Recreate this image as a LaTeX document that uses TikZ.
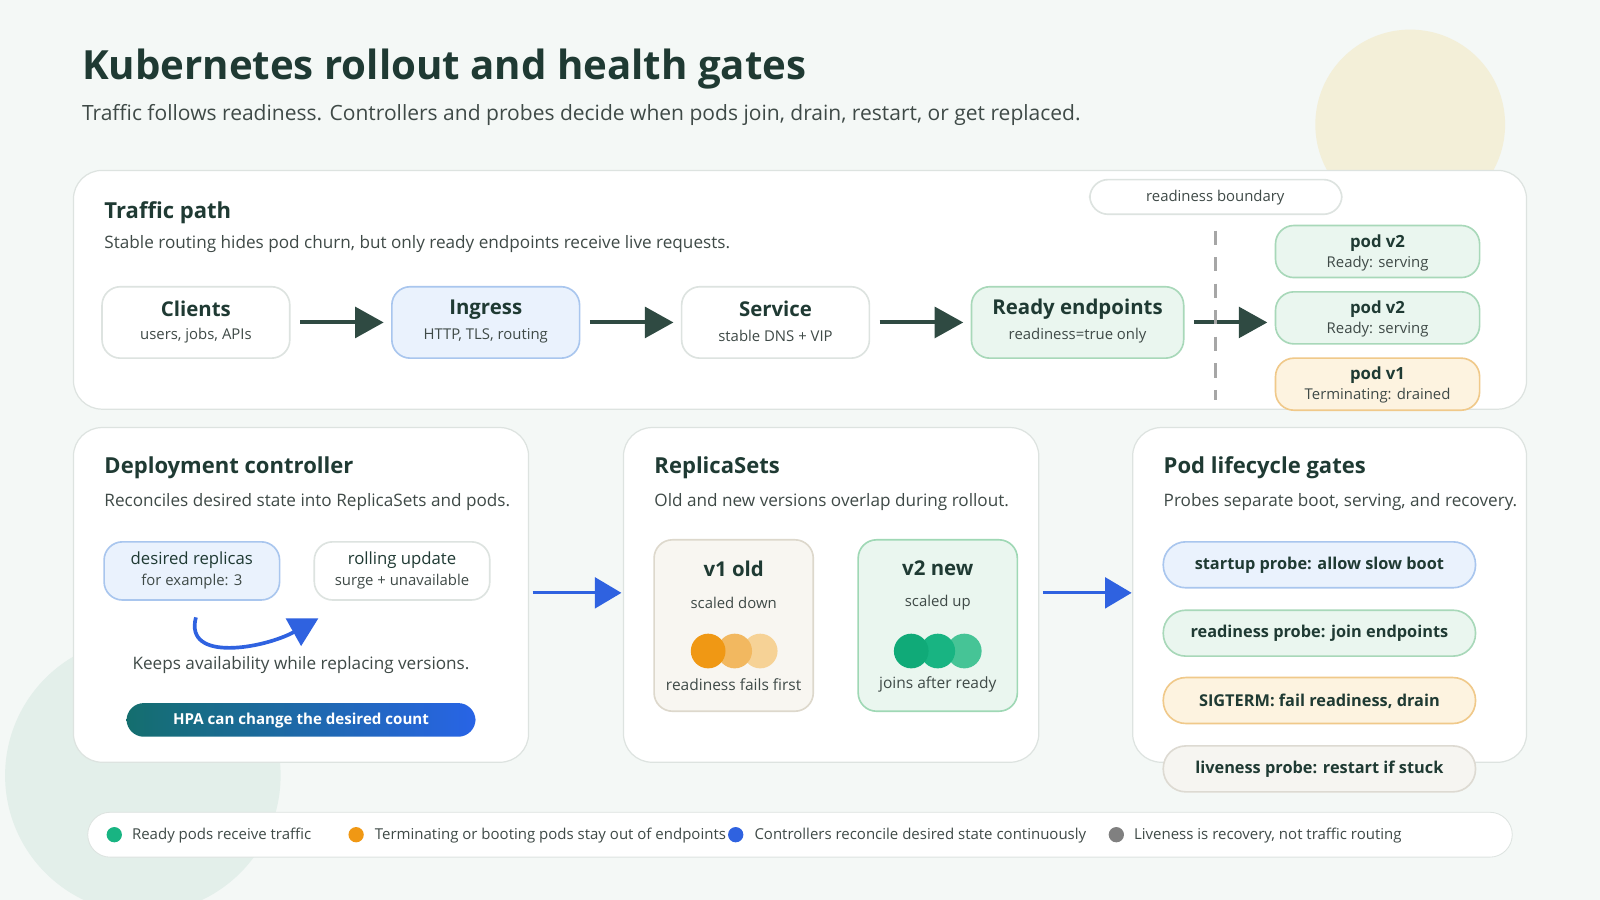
\documentclass[tikz,border=0pt]{standalone}
\usepackage{fontspec}
\setmainfont{Open Sans}
\usetikzlibrary{arrows.meta}
\definecolor{ink}{HTML}{1F3A33}
\definecolor{txt}{HTML}{3F4A47}
\definecolor{dark}{HTML}{2F4A42}
\definecolor{bluef}{HTML}{EAF2FD}\definecolor{blueb}{HTML}{A9C6EE}
\definecolor{greenf}{HTML}{EAF6EF}\definecolor{greenb}{HTML}{A8D8B9}
\definecolor{yelf}{HTML}{FDF3E0}\definecolor{yelb}{HTML}{F0C98A}
\definecolor{grayf}{HTML}{F6F5F1}\definecolor{grayb}{HTML}{DDDAD2}
\definecolor{panelb}{HTML}{DDE3E0}
\definecolor{arrblue}{HTML}{2F62E0}
\definecolor{bg}{HTML}{F4F8F6}
\definecolor{sun}{HTML}{F3EFD8}
\definecolor{mint}{HTML}{E3EFEA}
\definecolor{oldf}{HTML}{F8F6F1}\definecolor{oldb}{HTML}{DDD8CC}
\definecolor{newb}{HTML}{9FD8B5}
\definecolor{or1}{HTML}{F09814}\definecolor{or2}{HTML}{F2B860}\definecolor{or3}{HTML}{F6D296}
\definecolor{gr1}{HTML}{10AA78}\definecolor{gr2}{HTML}{18B482}\definecolor{gr3}{HTML}{46C496}
\definecolor{hpa1}{HTML}{146E6E}\definecolor{hpa2}{HTML}{2864E6}
\tikzset{
 every node/.style={inner sep=0pt},
 panel/.style={draw=panelb,fill=white,rounded corners=14pt,line width=0.6pt},
 box/.style={draw=panelb,fill=white,rounded corners=9pt,line width=0.8pt},
 pill/.style={rounded corners=11pt,line width=0.8pt},
 darr/.style={draw=dark,line width=2pt,-{Triangle[length=14pt,width=15pt]}},
 barr/.style={draw=arrblue,line width=1.6pt,-{Triangle[length=13pt,width=15pt]}},
 h/.style={font=\fontsize{10.8}{13}\selectfont\bfseries,text=ink,anchor=west},
 sub/.style={font=\fontsize{8.4}{10}\selectfont,text=txt,anchor=west},
 nt/.style={font=\fontsize{10}{12}\selectfont\bfseries,text=ink},
 ns/.style={font=\fontsize{7.3}{9}\selectfont,text=txt},
 pt/.style={font=\fontsize{8.2}{10}\selectfont\bfseries,text=ink},
 gt/.style={font=\fontsize{8}{10}\selectfont\bfseries,text=ink},
 lt/.style={font=\fontsize{7.35}{9}\selectfont,text=txt,anchor=west},
}
\begin{document}
\begin{tikzpicture}[x=0.5pt,y=-0.5pt]
\useasboundingbox (0,0) rectangle (1568,882);
\fill[bg] (0,0) rectangle (1568,882);
\fill[sun] (1382,122) circle (93);
\fill[mint] (140,760) circle (135);
\node[anchor=west,font=\fontsize{19.7}{24}\selectfont\bfseries,text=ink] (title) at (80,68) {Kubernetes rollout and health gates};
\node[anchor=west,font=\fontsize{10.3}{13}\selectfont,text=txt] (subt) at (80,113) {Traffic follows readiness. Controllers and probes decide when pods join, drain, restart, or get replaced.};
% traffic panel
\draw[panel] (72,167) rectangle (1496,401);
\node[h] (tp) at (102,208) {Traffic path};
\node[sub] (tps) at (102,239) {Stable routing hides pod churn, but only ready endpoints receive live requests.};
\draw[box] (100,281) rectangle (284,351);
\node[nt] (cl) at (192,303) {Clients}; \node[ns] (cls) at (192,329) {users, jobs, APIs};
\draw[box,fill=bluef,draw=blueb] (384,281) rectangle (568,351);
\node[nt] (in) at (476,303) {Ingress}; \node[ns] (ins) at (476,329) {HTTP, TLS, routing};
\draw[box] (668,281) rectangle (852,351);
\node[nt] (sv) at (760,303) {Service}; \node[ns] (svs) at (760,329) {stable DNS + VIP};
\draw[box,fill=greenf,draw=greenb] (952,281) rectangle (1160,351);
\node[nt] (re) at (1056,303) {Ready endpoints}; \node[ns] (res) at (1056,329) {readiness=true only};
\coordinate (a1) at (294,316); \coordinate (b1) at (376,316);
\coordinate (a2) at (578,316); \coordinate (b2) at (660,316);
\coordinate (a3) at (862,316); \coordinate (b3) at (944,316);
\coordinate (a4) at (1170,316); \coordinate (b4) at (1242,316);
\draw[darr] (a1) -- (b1); \draw[darr] (a2) -- (b2); \draw[darr] (a3) -- (b3); \draw[darr] (a4) -- (b4);
\draw[box,rounded corners=9pt] (1068,176) rectangle (1315,210);
\node[ns] (rb) at (1191,194) {readiness boundary};
\coordinate (d1) at (1191,226); \coordinate (d2) at (1191,392);
\draw[gray!70,line width=1.5pt,dash pattern=on 7pt off 6pt] (d1) -- (d2);
\draw[box,fill=greenf,draw=greenb] (1250,221) rectangle (1450,272);
\node[pt] (p1) at (1350,238) {pod v2}; \node[ns] (p1s) at (1350,258) {Ready: serving};
\draw[box,fill=greenf,draw=greenb] (1250,286) rectangle (1450,337);
\node[pt] (p2) at (1350,303) {pod v2}; \node[ns] (p2s) at (1350,323) {Ready: serving};
\draw[box,fill=yelf,draw=yelb] (1250,351) rectangle (1450,402);
\node[pt] (p3) at (1350,368) {pod v1}; \node[ns] (p3s) at (1350,388) {Terminating: drained};
% deployment
\draw[panel] (72,419) rectangle (518,747);
\node[h] (dc) at (102,458) {Deployment controller};
\node[sub] (dcs) at (102,492) {Reconciles desired state into ReplicaSets and pods.};
\draw[box,fill=bluef,draw=blueb] (102,531) rectangle (274,588);
\node[ns,font=\fontsize{8.2}{10}\selectfont,text=ink] (dr) at (188,549) {desired replicas}; \node[ns] (drs) at (188,570) {for example: 3};
\draw[box] (308,531) rectangle (480,588);
\node[ns,font=\fontsize{8.2}{10}\selectfont,text=ink] (ru) at (394,549) {rolling update}; \node[ns] (rus) at (394,570) {surge + unavailable};
\coordinate (c1) at (192,605); \coordinate (c2) at (312,606);
\draw[arrblue,line width=1.8pt,-{Triangle[length=14pt,width=15pt]}] (c1) .. controls (180,650) and (260,635) .. (c2);
\node[sub,anchor=center] (ka) at (295,652) {Keeps availability while replacing versions.};
\shade[left color=hpa1,right color=hpa2,rounded corners=8.5pt] (124,689) rectangle (466,722);
\node[font=\fontsize{7.4}{9}\selectfont\bfseries,text=white] (hpa) at (295,706) {HPA can change the desired count};
% replicasets
\draw[panel] (611,419) rectangle (1018,747);
\node[h] (rs) at (641,458) {ReplicaSets};
\node[sub] (rss) at (641,492) {Old and new versions overlap during rollout.};
\draw[box,fill=oldf,draw=oldb] (641,529) rectangle (797,697);
\node[nt] (v1) at (719,557) {v1 old}; \node[ns] (v1s) at (719,591) {scaled down};
\fill[or3] (745,638) circle (17);
\fill[or2] (720,638) circle (17);
\fill[or1] (694,638) circle (17);
\node[ns,font=\fontsize{7.6}{10}\selectfont] (v1t) at (719,671) {readiness fails first};
\draw[box,fill=greenf,draw=newb] (841,529) rectangle (997,697);
\node[nt] (v2) at (919,557) {v2 new}; \node[ns] (v2s) at (919,591) {scaled up};
\fill[gr3] (945,638) circle (17);
\fill[gr2] (919,638) circle (17);
\fill[gr1] (893,638) circle (17);
\node[ns,font=\fontsize{7.6}{10}\selectfont] (v2t) at (919,671) {joins after ready};
\coordinate (e1) at (522,581); \coordinate (f1) at (609,581);
\coordinate (e2) at (1022,581); \coordinate (f2) at (1109,581);
\draw[barr] (e1) -- (f1); \draw[barr] (e2) -- (f2);
% lifecycle
\draw[panel] (1110,419) rectangle (1496,747);
\node[h] (pl) at (1140,458) {Pod lifecycle gates};
\node[sub] (pls) at (1140,492) {Probes separate boot, serving, and recovery.};
\draw[pill,fill=bluef,draw=blueb] (1140,531) rectangle (1446,576);
\node[gt] (g1) at (1293,554) {startup probe: allow slow boot};
\draw[pill,fill=greenf,draw=greenb] (1140,598) rectangle (1446,643);
\node[gt] (g2) at (1293,621) {readiness probe: join endpoints};
\draw[pill,fill=yelf,draw=yelb] (1140,664) rectangle (1446,709);
\node[gt] (g3) at (1293,687) {SIGTERM: fail readiness, drain};
\draw[pill,fill=grayf,draw=grayb] (1140,731) rectangle (1446,776);
\node[gt] (g4) at (1293,754) {liveness probe: restart if stuck};
% legend
\draw[draw=panelb,fill=white,rounded corners=11pt] (86,796) rectangle (1482,840);
\fill[gr2] (112,818) circle (7.5);
\node[lt] (l1) at (129,819) {Ready pods receive traffic};
\fill[or1] (349,818) circle (7.5);
\node[lt] (l2) at (367,819) {Terminating or booting pods stay out of endpoints};
\fill[arrblue] (721,818) circle (7.5);
\node[lt] (l3) at (739,819) {Controllers reconcile desired state continuously};
\fill[gray] (1094,818) circle (7.5);
\node[lt] (l4) at (1111,819) {Liveness is recovery, not traffic routing};
\end{tikzpicture}
\end{document}
